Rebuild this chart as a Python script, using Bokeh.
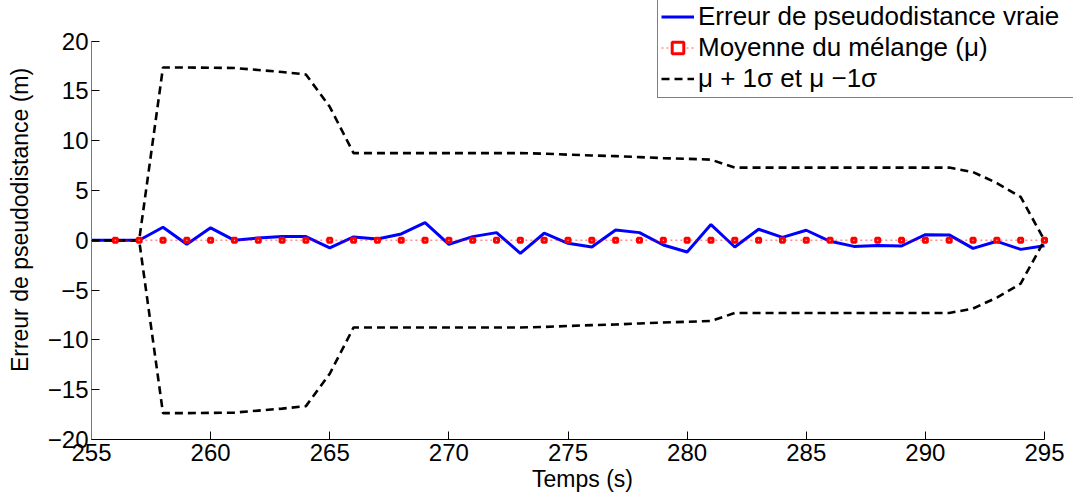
from bokeh.plotting import figure
from bokeh.models import FixedTicker, Legend, LegendItem, Range1d
from bokeh.embed import file_html
from bokeh.resources import INLINE

# ---- data ----
t = list(range(255, 296))
true_err = [0, 0, 0, 1.31, -0.40, 1.25, 0.0, 0.24, 0.37, 0.37, -0.77, 0.34, 0.13,
            0.64, 1.78, -0.40, 0.37, 0.77, -1.31, 0.71, -0.30, -0.67, 1.04, 0.77,
            -0.47, -1.18, 1.58, -0.67, 1.11, 0.30, 1.01, -0.10, -0.61, -0.51,
            -0.57, 0.57, 0.54, -0.81, -0.10, -0.91, -0.54]
sigma = [0, 0, 0, 17.35, 17.35, 17.33, 17.3, 17.1, 16.9, 16.65, 13.4, 8.75, 8.75,
         8.75, 8.75, 8.75, 8.75, 8.75, 8.75, 8.7, 8.6, 8.52, 8.45, 8.35, 8.25,
         8.18, 8.1, 7.3, 7.3, 7.3, 7.3, 7.3, 7.3, 7.3, 7.3, 7.3, 7.3, 6.85, 5.75,
         4.35, 0]
mean_t = list(range(256, 296))
mean_val = [0.0] * len(mean_t)
upper = [m + s for m, s in zip([0.0] * len(t), sigma)]
lower = [m - s for m, s in zip([0.0] * len(t), sigma)]

x_ticks = [255, 260, 265, 270, 275, 280, 285, 290, 295]
y_ticks = [-20, -15, -10, -5, 0, 5, 10, 15, 20]
y_labels = {v: str(v).replace("-", "\u2212") for v in y_ticks}

legend_labels = ["Erreur de pseudodistance vraie",
                 "Moyenne du mélange (\u03bc)",
                 "\u03bc + 1\u03c3 et \u03bc \u22121\u03c3"]

FONT = "Liberation Sans"

# the visible axes span 255..295 and -20..20; the frame is extended so that
# the legend (which overhangs the axes in the reference) is not clipped
p = figure(width=1073, height=494,
           x_range=Range1d(255, 296.217), y_range=Range1d(-20, 24.077),
           output_backend="svg", toolbar_location=None,
           min_border_left=91, min_border_right=0, min_border_top=0, min_border_bottom=54)

p.xgrid.visible = False
p.ygrid.visible = False
p.outline_line_color = None
p.background_fill_color = "white"
p.border_fill_color = "white"

for ax in (p.xaxis[0], p.yaxis[0]):
    ax.major_tick_in = 8
    ax.major_tick_out = 0
    ax.minor_tick_in = 0
    ax.minor_tick_out = 0
    ax.major_label_text_font = FONT
    ax.major_label_text_font_size = "24px"
    ax.major_label_text_color = "black"
    ax.axis_label_text_font = FONT
    ax.axis_label_text_font_size = "23px"
    ax.axis_label_text_font_style = "normal"
    ax.axis_label_text_color = "black"
    ax.major_tick_line_color = "black"

p.xaxis.bounds = (255, 295)
p.yaxis.bounds = (-20, 20)
p.xaxis.ticker = FixedTicker(ticks=x_ticks)
p.yaxis.ticker = FixedTicker(ticks=y_ticks)
p.yaxis.major_label_overrides = y_labels
p.xaxis.axis_label = "Temps (s)"
p.yaxis.axis_label = "Erreur de pseudodistance (m)"
p.xaxis.major_label_standoff = 4
p.xaxis.axis_label_standoff = 2
p.yaxis.major_label_standoff = 3
p.yaxis.axis_label_standoff = 12
p.xaxis.axis_line_color = "black"
p.yaxis.axis_line_color = "#777777"

r_true = p.line(t, true_err, line_color="#0000ff", line_width=3)
r_up = p.line(t, upper, line_color="black", line_width=2.6, line_dash="8 5")
r_lo = p.line(t, lower, line_color="black", line_width=2.6, line_dash="8 5")
r_mean_line = p.line(mean_t, mean_val, line_color="#ff0000", line_alpha=0.45,
                     line_width=1.6, line_dash="2 3")
r_mean_pts = p.scatter(mean_t, mean_val, marker="square", size=4, line_color="#ff0000",
                       line_width=3, fill_color="white")

legend = Legend(items=[
    LegendItem(label=legend_labels[0], renderers=[r_true]),
    LegendItem(label=legend_labels[1], renderers=[r_mean_line, r_mean_pts]),
    LegendItem(label=legend_labels[2], renderers=[r_up]),
], location=(566, 341))
legend.label_text_font = FONT
legend.label_text_font_size = "26px"
legend.label_text_color = "black"
legend.label_height = 29
legend.glyph_height = 29
legend.glyph_width = 33
legend.label_width = 390
legend.label_standoff = 4
legend.spacing = 0
legend.padding = 3
legend.margin = 0
legend.border_line_color = "black"
legend.border_line_width = 1
legend.background_fill_color = "white"
legend.background_fill_alpha = 1.0
p.add_layout(legend)

open("out.html", "w").write(file_html(p, INLINE))
